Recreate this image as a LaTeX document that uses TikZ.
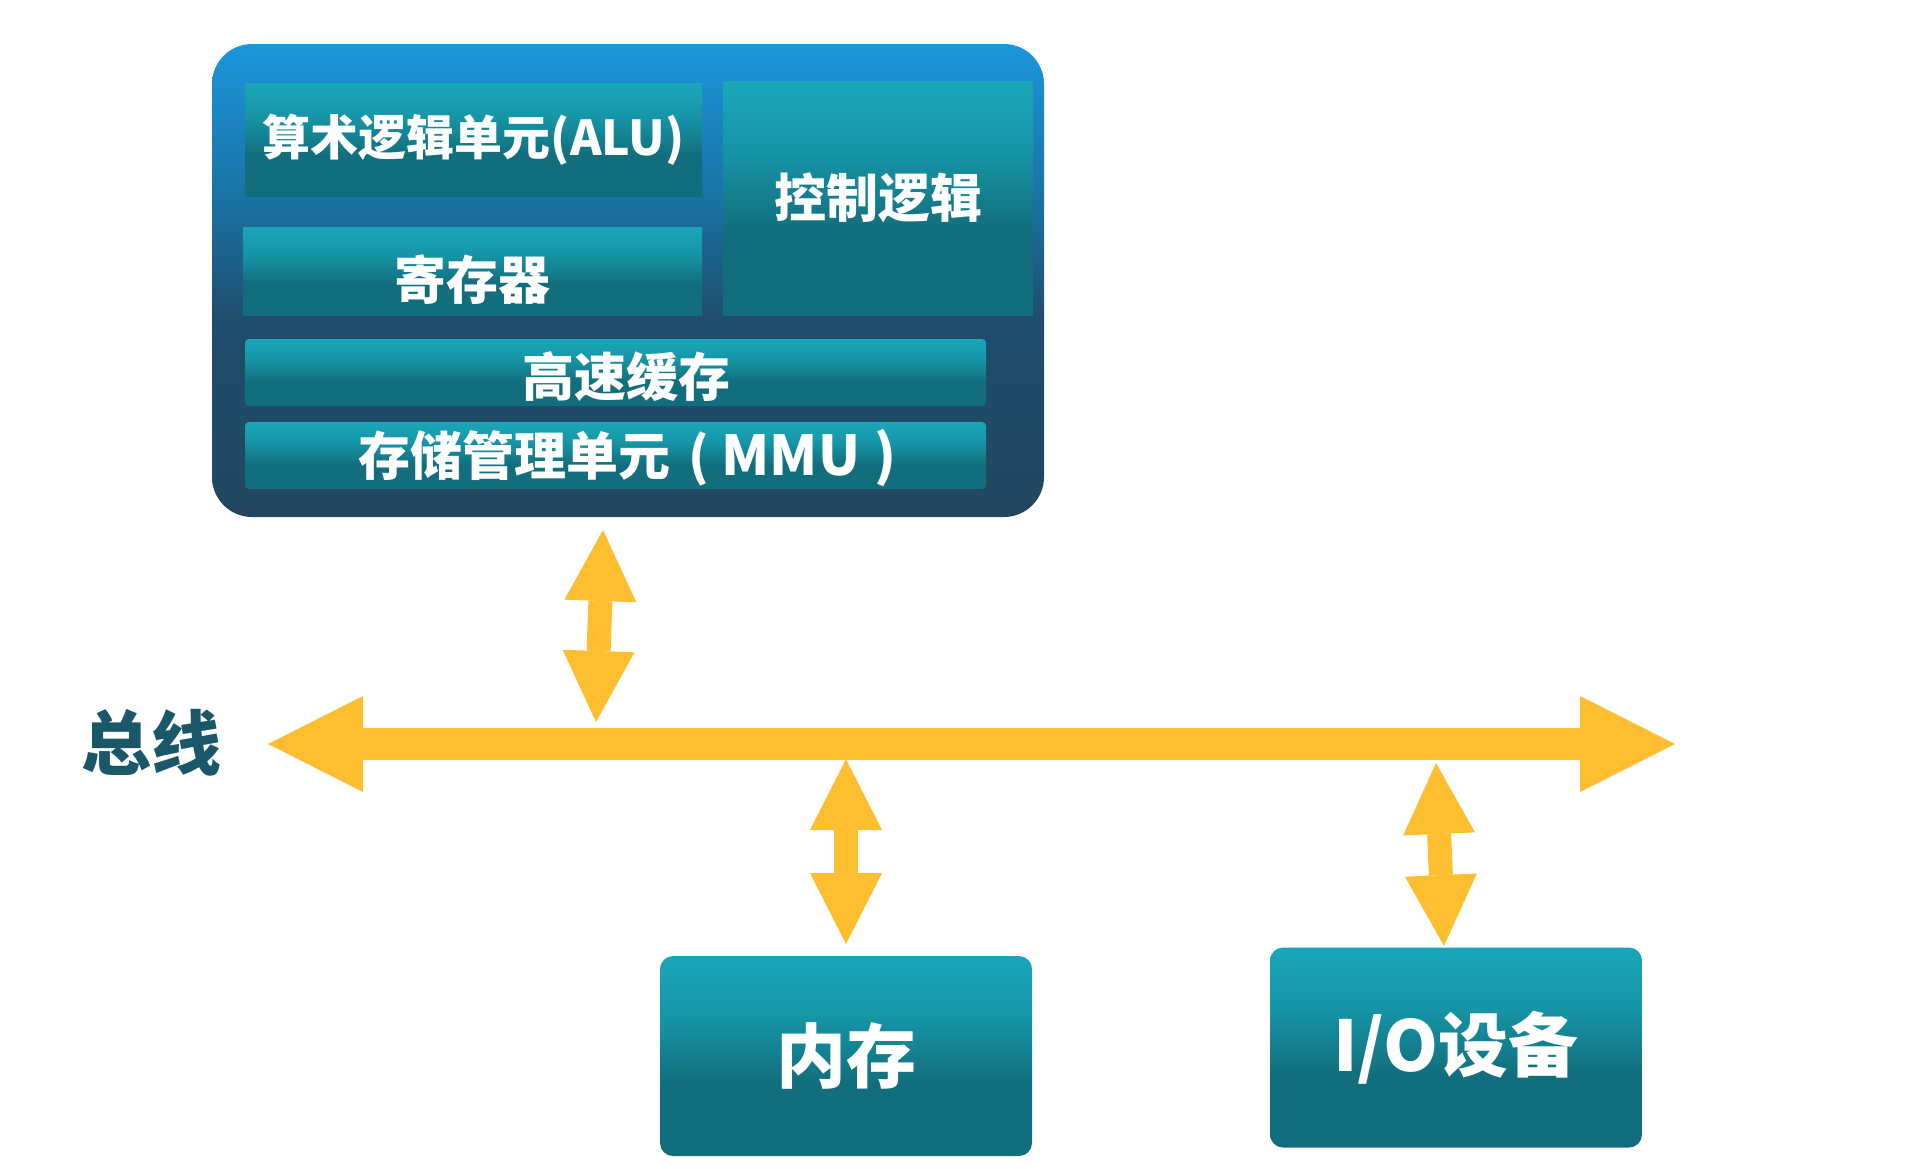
\documentclass[tikz,border=0pt]{standalone}
\usepackage{fontspec}
\newfontfamily\cjk{Noto Sans CJK SC}
\usetikzlibrary{arrows.meta}
\definecolor{cpuT}{HTML}{1B96DC}
\definecolor{cpuM}{HTML}{1A6E9E}
\definecolor{cpuN}{HTML}{1F4D6D}
\definecolor{cpuD}{HTML}{22475F}
\definecolor{tealL}{HTML}{1AA6BA}
\definecolor{tealM}{HTML}{1695A7}
\definecolor{tealD}{HTML}{126E7C}
\definecolor{busY}{HTML}{FDBF2F}
\definecolor{busTxt}{HTML}{1A5869}
\pgfdeclareverticalshading{cpushade}{100bp}{color(0bp)=(cpuD); color(25bp)=(cpuD); color(46bp)=(cpuN); color(57bp)=(cpuM); color(75bp)=(cpuT); color(100bp)=(cpuT)}
\pgfdeclareverticalshading{tealshade}{100bp}{color(0bp)=(tealD); color(25bp)=(tealD); color(43bp)=(tealD); color(60bp)=(tealM); color(75bp)=(tealL); color(100bp)=(tealL)}
\begin{document}
\begin{tikzpicture}[x=0.5pt,y=-0.5pt,
  cpubox/.style={shade, shading=cpushade, rounded corners=20pt, inner sep=0pt,
    minimum width=416pt, minimum height=236.5pt},
  unitbox/.style={shade, shading=tealshade, inner sep=0pt, text=white,
    font=\cjk\bfseries\fontsize{26pt}{26pt}\selectfont},
  bigbox/.style={unitbox, rounded corners=6.5pt, minimum width=186pt, minimum height=100pt,
    font=\cjk\bfseries\fontsize{35pt}{35pt}\selectfont},
  buslabel/.style={text=busTxt, inner sep=0pt, font=\cjk\bfseries\fontsize{35pt}{35pt}\selectfont},
  busarrow/.style={draw=busY, line width=16pt,
    >={Triangle[width=48pt,length=47.5pt,line width=0pt]}, <->},
  linkarrow/.style={draw=busY, line width=12pt,
    >={Triangle[width=36pt,length=35.5pt,line width=0pt]}, <->}]
\useasboundingbox (0,0) rectangle (1906,1168);

% CPU
\node[cpubox] (cpu) at (628,280.5) {};
\node[unitbox, minimum width=228.5pt, minimum height=56.5pt,
  font=\cjk\bfseries\fontsize{24pt}{24pt}\selectfont] (alu) at (473.5,139.5) {算术逻辑单元(ALU)};
\node[unitbox, minimum width=229.5pt, minimum height=44pt] (reg) at (472.5,271)
  {\raisebox{-4.5pt}[\height][\depth]{寄存器}};
\node[unitbox, minimum width=155pt, minimum height=117pt] (ctrl) at (878,198) {控制逻辑};
\node[unitbox, rounded corners=2pt, minimum width=370.5pt, minimum height=33.5pt] (cache) at (615.5,372.5)
  {\hspace*{11pt}\raisebox{-2pt}[\height][\depth]{高速缓存}};
\node[unitbox, rounded corners=2pt, minimum width=370.5pt, minimum height=33.5pt] (mmu) at (615.5,455.5)
  {\hspace*{12pt}\raisebox{-1.5pt}[\height][\depth]{存储管理单元\hspace{9pt}(\hspace{6pt}\fontsize{27.5pt}{27.5pt}\selectfont MMU\hspace{7pt})}};

% memory and I/O
\node[bigbox] (mem) at (846,1056) {内存};
\node[bigbox] (io) at (1456,1047.5) {I/O设备};

% bus
\node[buslabel] (buslbl) at (151,743) {总线};
\coordinate (busW) at (268,744);
\coordinate (busE) at (1675,744);
\draw[busarrow] (busW) -- (busE);

% links
\coordinate (l1t) at (603,530);
\coordinate (l1b) at (596,722);
\coordinate (l2t) at (846,759);
\coordinate (l2b) at (846,944);
\coordinate (l3t) at (1436,763);
\coordinate (l3b) at (1444,946);
\draw[linkarrow] (l1t) -- (l1b);
\draw[linkarrow] (l2t) -- (l2b);
\draw[linkarrow] (l3t) -- (l3b);
\end{tikzpicture}
\end{document}
